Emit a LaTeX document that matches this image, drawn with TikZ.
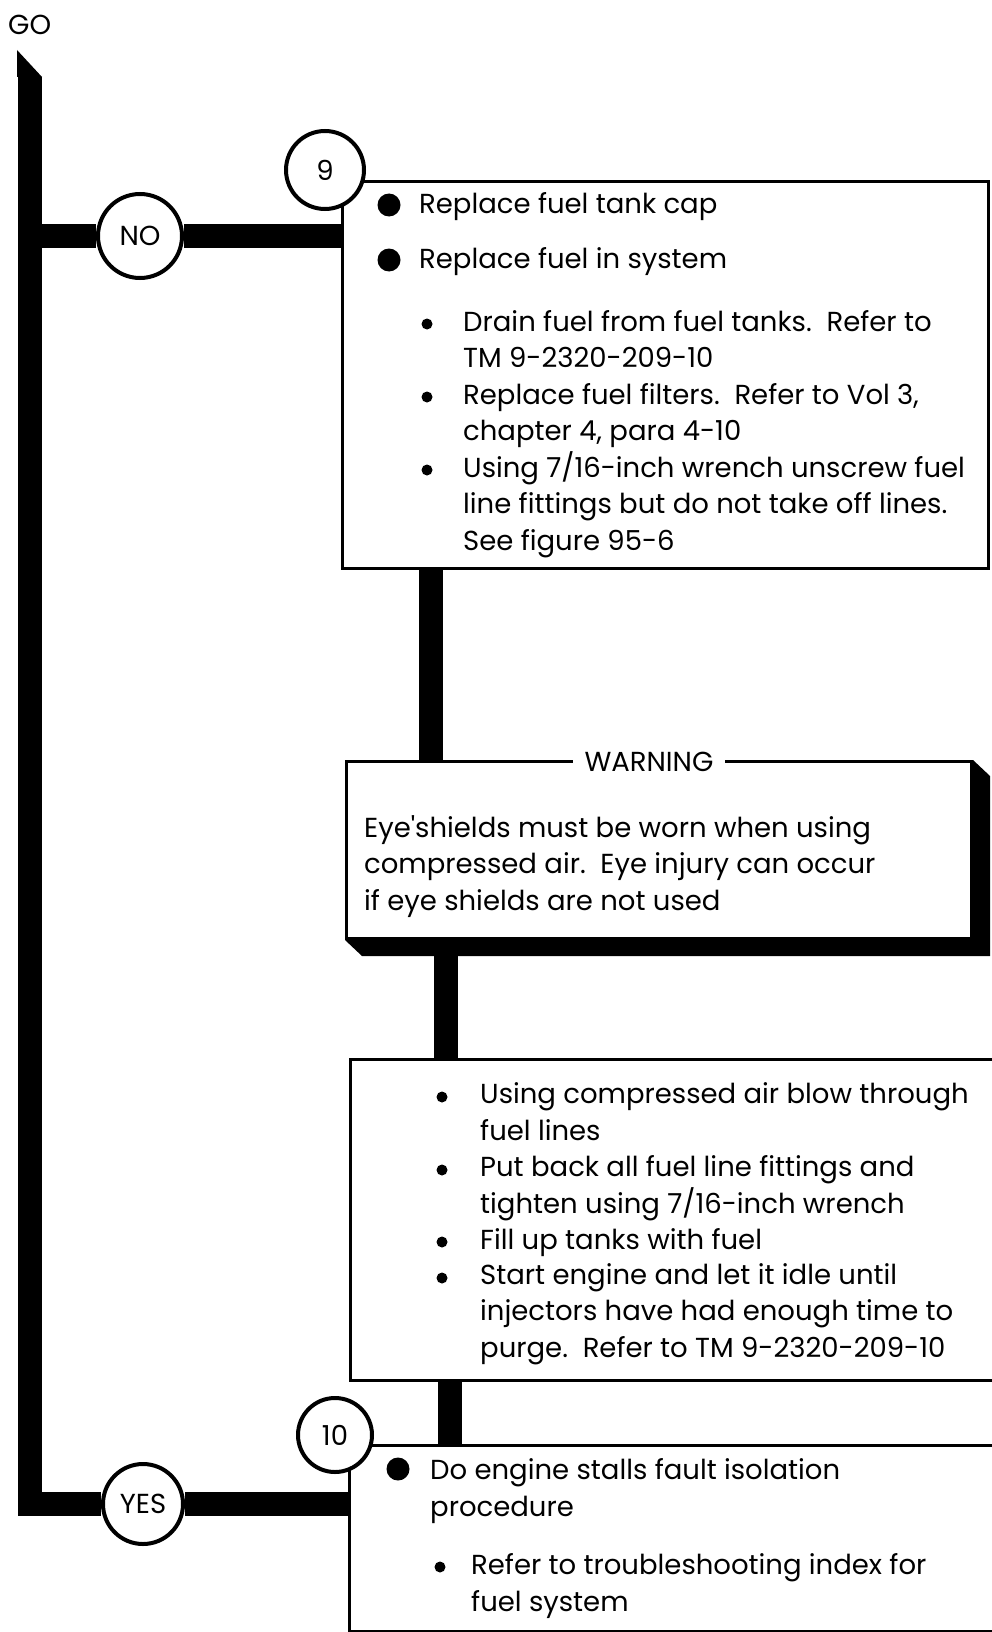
\documentclass[tikz,border=0pt]{standalone}
\usepackage{fontspec}
\setmainfont{Poppins}
\usetikzlibrary{positioning}

\tikzset{
  flow/.style={line width=24pt, line cap=butt, line join=miter},
  ring/.style={circle, draw, line width=4pt, fill=white, inner sep=0pt},
  frame/.style={draw, line width=3pt, anchor=north west, inner sep=0pt},
  item/.style={anchor=base west, align=left, inner sep=0pt},
}

\begin{document}
\begin{tikzpicture}[x=1pt, y=-1pt, font=\fontsize{27.5}{36.5}\selectfont]
\useasboundingbox (0,0) rectangle (991,1632);

% boxes
\node[frame, minimum width=646pt, minimum height=387pt] (box9) at (341,180) {};
\node[frame, minimum width=625pt, minimum height=177pt] (warn) at (345,760) {};
\node[frame, minimum width=651pt, minimum height=321pt] (box3) at (349,1058) {};
\node[frame, minimum width=652pt, minimum height=186pt] (box10) at (348,1444) {};

% shadow of the warning box
\fill (warn.north east) -- ++(17,16) -- ([shift={(17,16)}]warn.south east)
  -- ([shift={(17,16)}]warn.south west) -- (warn.south west) -- (warn.south east) -- cycle;

\node[anchor=base west, inner sep=0pt] (go) at (8,35) {GO};
\node[ring, minimum size=84pt] (no) at (140,236) {NO};
\node[ring, minimum size=78pt] (nine) at (325,170) {9};
\node[ring, minimum size=74pt] (ten) at (335,1435) {10};
\node[ring, minimum size=80pt] (yes) at (143,1504) {YES};

% flow lines
\coordinate (start) at (29.5,77);
\fill (17,50) -- (42,77) -- (17,77) -- cycle;
\draw[flow] (start) -- (start |- yes) -- (yes.west);
\draw[flow] (start |- no) -- (no.west);
\draw[flow] (no.east) -- (no -| box9.west);
\draw[flow] (yes.east) -- (yes -| box10.west);
\draw[flow] ([xshift=90pt]box9.south west) -- ([xshift=90pt]box9.south west |- warn.north);
\draw[flow] ([xshift=100.5pt]warn.south west) -- ([xshift=100.5pt]warn.south west |- box3.north);
\draw[flow] ([xshift=100.5pt]box3.south west) -- ([xshift=100.5pt]box3.south west |- box10.north);

\node[fill=white, inner xsep=12pt, inner ysep=0pt] (warnlabel) at (649,762) {WARNING};

% step 9 (multi-line items sit on their last baseline)
\fill (389,205) circle (11.5pt);
\fill (389,260) circle (11.5pt);
\node[item] (capline) at (419,213) {Replace fuel tank cap};
\node[item] (fuelline) at (419,268) {Replace fuel in system};
\foreach \y in {324,397,470} \fill (427,\y) circle (5.5pt);
\node[item] (drain) at (463,367.5) {Drain fuel from fuel tanks.\ \ Refer to\\TM 9-2320-209-10};
\node[item] (filters) at (463,440.5) {Replace fuel filters.\ \ Refer to Vol 3,\\chapter 4, para 4-10};
\node[item] (unscrew) at (463,550) {Using 7/16-inch wrench unscrew fuel\\line fittings but do not take off lines.\\See figure 95-6};

% warning
\node[item] (warntext) at (364,910) {Eye\textquotesingle shields must be worn when using\\compressed air.\ \ Eye injury can occur\\if eye shields are not used};

% purge
\foreach \y in {1097,1170,1242,1278} \fill (442,\y) circle (5.5pt);
\node[item] (blow) at (480,1140) {Using compressed air blow through\\fuel lines};
\node[item] (putback) at (480,1213) {Put back all fuel line fittings and\\tighten using 7/16-inch wrench};
\node[item] (fill) at (480,1249) {Fill up tanks with fuel};
\node[item] (idle) at (480,1357) {Start engine and let it idle until\\injectors have had enough time to\\purge.\ \ Refer to TM 9-2320-209-10};

% step 10
\fill (398,1469) circle (11.5pt);
\fill (440,1567) circle (5.5pt);
\node[item] (stalls) at (430,1516) {Do engine stalls fault isolation\\procedure};
\node[item] (index) at (471,1611) {Refer to troubleshooting index for\\fuel system};

\end{tikzpicture}
\end{document}
